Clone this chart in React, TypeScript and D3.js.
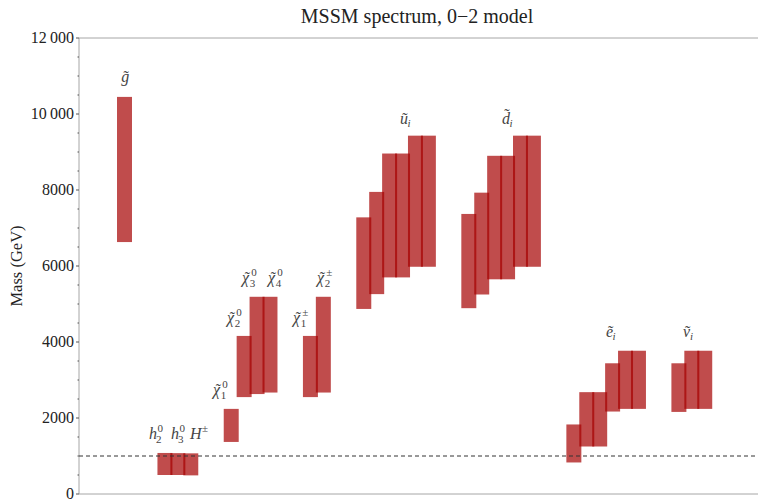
import React, { useEffect } from "react";
import * as d3 from "d3";

// ---- data ----
const groupNames = ["gluino", "higgs", "neutralino", "chargino", "sup", "sdown", "slepton", "sneutrino"];
const groupSizes = [1, 3, 4, 2, 6, 6, 6, 3];
// mass ranges (GeV), low / high, bar by bar in group order
const massLow = [
  6630,
  500, 500, 490,
  1370, 2550, 2630, 2670,
  2550, 2670,
  4870, 5260, 5700, 5700, 5980, 5980,
  4890, 5250, 5650, 5650, 5980, 5980,
  830, 1250, 1250, 2170, 2240, 2240,
  2160, 2240, 2240,
];
const massHigh = [
  10450,
  1080, 1075, 1070,
  2240, 4160, 5190, 5190,
  4160, 5190,
  7280, 7950, 8960, 8960, 9430, 9430,
  7370, 7930, 8900, 8900, 9430, 9430,
  1830, 2680, 2680, 3440, 3770, 3770,
  3440, 3770, 3770,
];
const yTicks = [0, 2000, 4000, 6000, 8000, 10000, 12000];
const yTickLabels = ["0", "2000", "4000", "6000", "8000", "10\u2009000", "12\u2009000"];
const refMass = 1000;

// labels: base letter, tilde, subscript, superscript, position (bar units, mass)
const labelBase = ["g", "h", "h", "H", "\u03C7", "\u03C7", "\u03C7", "\u03C7", "\u03C7", "\u03C7", "u", "d", "e", "\u03BD"];
const labelTilde = [true, false, false, false, true, true, true, true, true, true, true, true, true, true];
const labelSub = ["", "2", "3", "", "1", "2", "3", "4", "1", "2", "i", "i", "i", "i"];
const labelSup = ["", "0", "0", "\u00B1", "0", "0", "0", "0", "\u00B1", "\u00B1", "", "", "", ""];
const labelPos = [-0.25, 1.9, 3.6, 5.07, 6.85, 7.93, 9.09, 11.11, 13.04, 14.9, 21.32, 29.22, 37.27, 43.23];
const labelMass = [10840, 1447, 1447, 1447, 2605, 4500, 5553, 5553, 4500, 5553, 9737, 9737, 4132, 4132];

const GROUP_GAP = 3.13;
const BAR_WIDTH = 1.16;

// approximate advance widths (em) of italic serif letters
const letterWidth: Record<string, number> = { g: 0.5, h: 0.5, H: 0.72, "\u03C7": 0.55, u: 0.5, d: 0.5, e: 0.44, "\u03BD": 0.46 };

export default function App() {
  useEffect(() => {
    document.body.style.margin = "0";
  }, []);

  const W = 758, H = 499;
  const left = 79, top = 38, bottom = 494;
  const y = d3.scaleLinear().domain([0, 12000]).range([bottom, top]);
  const x = d3.scaleLinear().domain([0, 1]).range([124.5, 124.5 + 12.92]);

  const positions: number[] = [];
  let p = 0;
  groupSizes.forEach((n, gi) => {
    if (gi > 0) p += GROUP_GAP - 1;
    for (let k = 0; k < n; k++) {
      positions.push(p);
      p += 1;
    }
  });

  const minorTicks = d3.range(0, 12001, 500).filter((v) => v % 2000 !== 0);
  const font = "'Liberation Serif', 'Times New Roman', serif";
  const axisColor = "#a6a6a6";
  const barW = x(BAR_WIDTH) - x(0);
  const LF = 16;
  const SF = 11;
  const tildeW = 0.333 * LF;

  return (
    <svg width={W} height={H} style={{ display: "block", background: "#fff", fontFamily: font }}>
      <line x1={left} x2={W} y1={top} y2={top} stroke={axisColor} strokeWidth={1} />
      <line x1={left} x2={W} y1={bottom} y2={bottom} stroke={axisColor} strokeWidth={1} />
      <line x1={left} x2={left} y1={top} y2={bottom} stroke={axisColor} strokeWidth={1} />
      {yTicks.map((t, i) => (
        <g key={t}>
          <line x1={left - 3} x2={left} y1={y(t)} y2={y(t)} stroke="#555" strokeWidth={1} />
          <text x={left - 5} y={y(t)} dy="0.33em" textAnchor="end" fontSize={16} fill="#222" style={{ fontFamily: font }}>
            {yTickLabels[i]}
          </text>
        </g>
      ))}
      {minorTicks.map((t) => (
        <line key={t} x1={left - 1.5} x2={left} y1={y(t)} y2={y(t)} stroke="#555" strokeWidth={1} />
      ))}
      {positions.map((pos, i) => (
        <rect
          key={i}
          x={x(pos) - barW / 2}
          width={barW}
          y={y(massHigh[i])}
          height={y(massLow[i]) - y(massHigh[i])}
          fill="rgb(165,0,0)"
          fillOpacity={0.7}
        />
      ))}
      <line x1={left} x2={W} y1={y(refMass)} y2={y(refMass)} stroke="#333" strokeWidth={1} strokeDasharray="4,3" />
      {labelBase.map((b, i) => {
        const lx = x(labelPos[i]);
        const ly = y(labelMass[i]);
        const w = (letterWidth[b] ?? 0.5) * LF;
        const both = labelSup[i] && labelSub[i];
        const tildeLift = b === "d" ? 4 : 0;
        return (
          <text key={i} x={lx} y={ly} fontSize={LF} fill="#444" style={{ fontFamily: font }}>
            <tspan fontStyle="italic">{b}</tspan>
            {labelTilde[i] && (
              <tspan x={lx + w / 2 + 1 - tildeW / 2} y={ly - tildeLift}>
                {"\u02DC"}
              </tspan>
            )}
            {labelSup[i] && (
              <tspan x={lx + w + 0.5} y={ly - 7} fontSize={SF}>
                {labelSup[i]}
              </tspan>
            )}
            {labelSub[i] && (
              <tspan
                x={lx + w - (labelSub[i] === "i" ? 0.5 : 1)}
                y={ly + (both ? 4 : 3)}
                fontSize={SF}
                fontStyle={labelSub[i] === "i" ? "italic" : "normal"}
              >
                {labelSub[i]}
              </tspan>
            )}
          </text>
        );
      })}
      <text x={417} y={23} textAnchor="middle" fontSize={20} fill="#222" style={{ fontFamily: font }}>
        MSSM spectrum, 0{"\u2212"}2 model
      </text>
      <text
        transform={`translate(22,${(top + bottom) / 2}) rotate(-90)`}
        textAnchor="middle"
        fontSize={16.5}
        fill="#222"
        style={{ fontFamily: font }}
      >
        Mass (GeV)
      </text>
    </svg>
  );
}
